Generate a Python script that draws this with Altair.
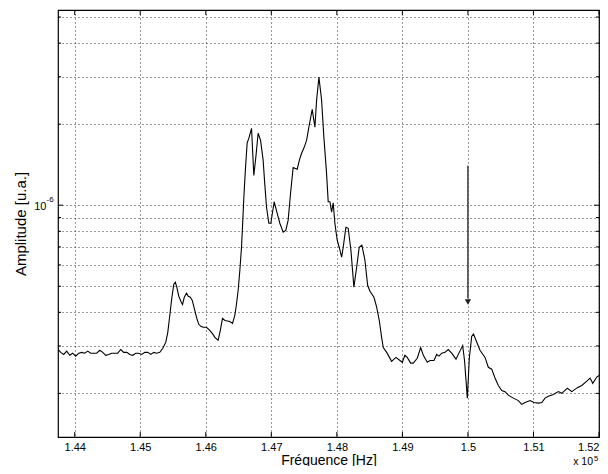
import altair as alt
import pandas as pd

# Frequency (Hz) and amplitude (x1e-7, arbitrary units)
freq_hz = [143748, 143786, 143832, 143878, 143924, 143969, 144015, 144061, 144107, 144153,
           144199, 144244, 144290, 144336, 144382, 144428, 144473, 144519, 144565, 144611,
           144657, 144702, 144748, 144794, 144840, 144886, 144931, 144977, 145023, 145069,
           145115, 145161, 145206, 145252, 145298, 145344, 145390, 145420, 145451, 145481,
           145512, 145535, 145558, 145588, 145619, 145645, 145672, 145706, 145733, 145764,
           145794, 145832, 145863, 145893, 145924, 145959, 146011, 146061, 146107, 146138,
           146188, 146222, 146255, 146291, 146367, 146408, 146443, 146466, 146494, 146520,
           146545, 146565, 146581, 146604, 146631, 146662, 146698, 146733, 146764, 146799,
           146836, 146875, 146901, 146927, 146962, 146993, 147043, 147089, 147130, 147181,
           147222, 147257, 147294, 147333, 147395, 147428, 147462, 147497, 147538, 147578,
           147624, 147665, 147691, 147726, 147767, 147802, 147843, 147868, 147894, 147920,
           147944, 147970, 148005, 148036, 148073, 148097, 148138, 148173, 148215, 148260,
           148302, 148341, 148382, 148428, 148470, 148505, 148566, 148607, 148647, 148683,
           148708, 148760, 148836, 148902, 148963, 148998, 149039, 149074, 149126, 149166,
           149227, 149279, 149319, 149380, 149421, 149482, 149523, 149558, 149600, 149650,
           149700, 149752, 149818, 149868, 149920, 149948, 149991, 150021, 150058, 150085,
           150123, 150184, 150261, 150311, 150363, 150413, 150464, 150516, 150566, 150616,
           150693, 150769, 150821, 150872, 150948, 151009, 151075, 151127, 151177, 151227,
           151304, 151380, 151432, 151517, 151585, 151670, 151737, 151814, 151864, 151905,
           151966, 152000]

amp_e7 = [2.91, 2.84, 2.79, 2.87, 2.77, 2.82, 2.75, 2.82, 2.84, 2.82,
          2.87, 2.82, 2.82, 2.82, 2.89, 2.84, 2.77, 2.79, 2.82, 2.82,
          2.82, 2.91, 2.84, 2.84, 2.79, 2.77, 2.82, 2.82, 2.79, 2.84,
          2.84, 2.79, 2.84, 2.82, 2.84, 2.94, 3.10, 3.37, 3.90, 4.51,
          5.09, 5.18, 4.96, 4.59, 4.40, 4.28, 4.55, 4.71, 4.59, 4.55,
          4.43, 4.07, 3.80, 3.61, 3.55, 3.52, 3.52, 3.43, 3.32, 3.23,
          3.15, 3.43, 3.80, 3.73, 3.70, 3.64, 3.90, 4.25, 4.83, 5.73,
          6.98, 8.80, 10.7, 13.5, 17.0, 17.9, 19.3, 12.9, 15.1, 18.5,
          17.4, 14.7, 11.9, 9.83, 8.57, 8.57, 10.3, 9.34, 8.57, 7.94,
          8.08, 8.80, 11.1, 13.8, 13.6, 14.7, 15.6, 16.3, 17.4, 19.8,
          22.7, 19.5, 24.6, 29.9, 24.6, 17.9, 13.1, 10.3, 10.3, 9.42,
          10.2, 8.57, 7.41, 6.98, 6.41, 6.98, 8.28, 8.21, 6.79, 4.96,
          5.88, 6.98, 7.10, 6.26, 5.04, 4.79, 4.55, 4.18, 3.73, 3.23,
          2.96, 2.84, 2.63, 2.72, 2.65, 2.61, 2.77, 2.72, 2.59, 2.59,
          2.70, 2.96, 2.77, 2.61, 2.65, 2.65, 2.79, 2.75, 2.82, 2.84,
          2.91, 2.82, 2.68, 2.84, 3.01, 2.65, 1.92, 2.70, 3.26, 3.32,
          3.15, 2.89, 2.72, 2.50, 2.46, 2.28, 2.14, 2.05, 2.03, 1.97,
          1.92, 1.88, 1.82, 1.85, 1.88, 1.85, 1.84, 1.85, 1.92, 1.95,
          1.98, 2.03, 2.00, 2.09, 2.03, 2.10, 2.14, 2.22, 2.28, 2.18,
          2.30, 2.33]

x_ticks = [144000, 145000, 146000, 147000, 148000, 149000, 150000, 151000, 152000]
y_minor = [2e-7, 3e-7, 4e-7, 5e-7, 6e-7, 7e-7, 8e-7, 9e-7, 2e-6, 3e-6, 4e-6, 5e-6]
y_major = [1e-6]
x_domain = [143745, 152000]
y_domain = [1.377e-7, 5.31e-6]

arrow_f = [150000]
arrow_top = [1.40e-6]
arrow_bottom = [4.5e-7]
arrow_head = [4.37e-7]

W, H = 541, 427
FONT = "Liberation Sans"

df = pd.DataFrame({"f": freq_hz, "a": [v * 1e-7 for v in amp_e7]})

xs = alt.Scale(domain=x_domain, nice=False, zero=False)
ys = alt.Scale(type="log", domain=y_domain, nice=False, zero=False)

grid_kw = dict(grid=True, gridColor="#000000", gridOpacity=0.8, gridDash=[1, 3],
               gridWidth=1, ticks=False, domain=False, labelFont=FONT,
               titleFont=FONT, titleFontWeight="normal", labelColor="#000",
               titleColor="#000")

xaxis = alt.Axis(values=x_ticks, labelExpr="format(datum.value/1e5, '.3~g')",
                 title="Fréquence [Hz]", labelFontSize=11, labelPadding=4,
                 titleFontSize=14, titleY=27, titleBaseline="alphabetic",
                 labelFlush=True, labelOverlap=False, **grid_kw)
yaxis = alt.Axis(values=y_minor + y_major,
                 labelExpr="abs(datum.value - 1e-6) < 1e-9 ? '10' : ''",
                 title="Amplitude [u.a.]", labelFontSize=11, labelPadding=12,
                 titleFontSize=15, titleX=-38, titleY=H / 2, titleAngle=-90,
                 titleBaseline="middle", titleAnchor="middle", labelOverlap=False,
                 labelBaseline="middle", labelOffset=1, **grid_kw)

X = alt.X("f:Q", scale=xs, axis=xaxis)
Y = alt.Y("a:Q", scale=ys, axis=yaxis)

line = alt.Chart(df).mark_line(color="black", strokeWidth=1.1, clip=True).encode(x=X, y=Y)

arrow_df = pd.DataFrame({"f": arrow_f, "a": arrow_top, "a2": arrow_bottom})
arrow = alt.Chart(arrow_df).mark_rule(color="#444444", strokeWidth=1.6).encode(
    x=X, y=Y, y2="a2:Q")
head_df = pd.DataFrame({"f": arrow_f, "a": arrow_head})
head = alt.Chart(head_df).mark_point(shape="triangle-down", filled=True, size=40,
                                     color="#222222", opacity=1).encode(x=X, y=Y)

xt = pd.DataFrame({"f": x_ticks})
xt_bot = alt.Chart(xt).mark_rule(color="black").encode(x=X, y=alt.value(H), y2=alt.value(H - 5))
xt_top = alt.Chart(xt).mark_rule(color="black").encode(x=X, y=alt.value(0), y2=alt.value(5))

ymin = pd.DataFrame({"a": y_minor})
ymaj = pd.DataFrame({"a": y_major})
yl_min = alt.Chart(ymin).mark_rule(color="black").encode(y=Y, x=alt.value(0), x2=alt.value(3))
yr_min = alt.Chart(ymin).mark_rule(color="black").encode(y=Y, x=alt.value(W - 3), x2=alt.value(W))
yl_maj = alt.Chart(ymaj).mark_rule(color="black").encode(y=Y, x=alt.value(0), x2=alt.value(5))
yr_maj = alt.Chart(ymaj).mark_rule(color="black").encode(y=Y, x=alt.value(W - 5), x2=alt.value(W))

# exponent of the y label "10^-6"
exp_df = pd.DataFrame({"f": [x_domain[0]], "a": [1e-6], "t": ["-6"]})
y_exp = alt.Chart(exp_df).mark_text(font=FONT, fontSize=8, align="left", dx=-11.5, dy=-5,
                                    color="black").encode(x=X, y=Y, text="t:N")

# "x 10^5" multiplier
mul_df = pd.DataFrame({"f": [x_domain[1]], "a": [y_domain[0]], "t": ["x 10"]})
mul = alt.Chart(mul_df).mark_text(font=FONT, fontSize=10.5, align="right", baseline="alphabetic",
                                  dx=-6, dy=28, color="black").encode(x=X, y=Y, text="t:N")
mexp_df = pd.DataFrame({"f": [x_domain[1]], "a": [y_domain[0]], "t": ["5"]})
mexp = alt.Chart(mexp_df).mark_text(font=FONT, fontSize=7.5, align="left", baseline="alphabetic",
                                    dx=-5, dy=23.5, color="black").encode(x=X, y=Y, text="t:N")

chart = alt.layer(line, arrow, head, xt_bot, xt_top, yl_min, yr_min, yl_maj, yr_maj,
                  y_exp, mul, mexp).properties(
    width=W, height=H,
    autosize=alt.AutoSizeParams(type="none"),
    padding={"left": 50, "top": 2, "right": 1, "bottom": 29},
    background="white",
).configure_view(stroke="black", strokeWidth=1.2)

chart.save("out.html", embed_options={"renderer": "svg", "actions": False})
